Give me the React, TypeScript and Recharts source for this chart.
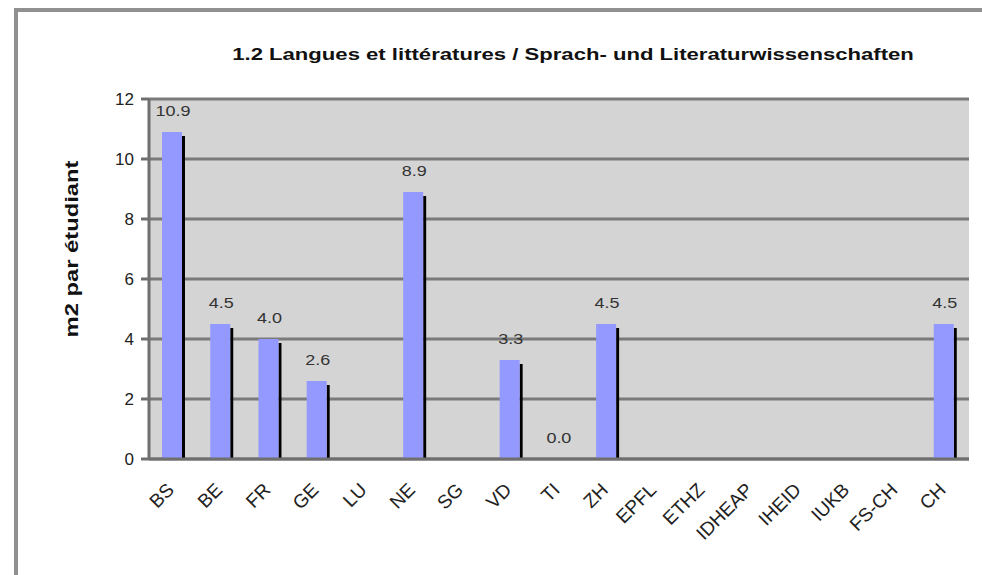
import React from 'react';
import { BarChart, Bar, XAxis, YAxis, CartesianGrid, LabelList } from 'recharts';

const categories = ['BS', 'BE', 'FR', 'GE', 'LU', 'NE', 'SG', 'VD', 'TI', 'ZH', 'EPFL', 'ETHZ', 'IDHEAP', 'IHEID', 'IUKB', 'FS-CH', 'CH'];
const values: (number | null)[] = [10.9, 4.5, 4.0, 2.6, null, 8.9, null, 3.3, 0.0, 4.5, null, null, null, null, null, null, 4.5];
const yTicks = [0, 2, 4, 6, 8, 10, 12];

const data = categories.map((name, i) => ({ name, value: values[i] }));

const font = '"Liberation Sans", Arial, Helvetica, sans-serif';

const ShadowBar = (props: any) => {
  const { x, y, width, height } = props;
  if (!height || height <= 0) return null;
  const bw = width - 3;
  return (
    <g>
      <rect x={x + bw} y={y + 4} width={3} height={height - 4} fill="#000" />
      <rect x={x} y={y} width={bw} height={height} fill="#9499ff" />
    </g>
  );
};

const XTick = (props: any) => {
  const { x, y, payload } = props;
  const ax = x + 2;
  const ay = y + 24;
  return (
    <text
      x={ax}
      y={ay}
      transform={`rotate(-45, ${ax}, ${ay})`}
      textAnchor="end"
      fontSize={19}
      fill="#222"
      fontFamily={font}
    >
      {payload.value}
    </text>
  );
};

const ValueLabel = (props: any) => {
  const { x, y, width, value } = props;
  if (value == null) return null;
  const cx = x + (width - 3) / 2 + 1;
  const cy = y - 16;
  return (
    <text
      x={cx}
      y={cy}
      textAnchor="middle"
      fontSize={15}
      fill="#333"
      fontFamily={font}
      transform={`translate(${cx}, 0) scale(1.2, 1) translate(${-cx}, 0)`}
    >
      {Number(value).toFixed(1)}
    </text>
  );
};

export default function App() {
  return (
    <div style={{ position: 'absolute', left: 0, top: 0, width: 982, height: 575, background: '#fff', overflow: 'hidden' }}>
      <div style={{ position: 'absolute', left: 14, top: 8, width: 968, height: 4, background: '#909090' }} />
      <div style={{ position: 'absolute', left: 14, top: 8, width: 4, height: 567, background: '#909090' }} />
      <div
        style={{
          position: 'absolute',
          left: 573,
          top: 55,
          transform: 'translate(-50%, -50%) scaleX(1.3)',
          whiteSpace: 'nowrap',
          fontFamily: font,
          fontWeight: 'bold',
          fontSize: 17,
          color: '#111',
        }}
      >
        1.2 Langues et littératures / Sprach- und Literaturwissenschaften
      </div>
      <div
        style={{
          position: 'absolute',
          left: 72,
          top: 249,
          transform: 'translate(-50%, -50%) rotate(-90deg) scaleX(1.25)',
          whiteSpace: 'nowrap',
          fontFamily: font,
          fontWeight: 'bold',
          fontSize: 19,
          color: '#111',
        }}
      >
        m2 par étudiant
      </div>
      <div style={{ position: 'absolute', left: 0, top: 0 }}>
        <BarChart width={982} height={575} data={data} margin={{ top: 99, right: 13, bottom: 0, left: 89 }} barCategoryGap={0}>
          <CartesianGrid vertical={false} fill="#d4d4d4" stroke="#7a7a7a" strokeWidth={3} />
          <XAxis
            dataKey="name"
            interval={0}
            height={116}
            tick={<XTick />}
            tickLine={false}
            axisLine={{ stroke: '#6f6f6f', strokeWidth: 3 }}
          />
          <YAxis
            width={60}
            domain={[0, 12]}
            ticks={yTicks}
            tick={{ fontSize: 17, fill: '#222', fontFamily: font }}
            tickLine={{ stroke: '#6f6f6f', strokeWidth: 3 }}
            tickSize={8}
            tickMargin={7}
            axisLine={{ stroke: '#6f6f6f', strokeWidth: 3 }}
          />
          <Bar dataKey="value" barSize={23} shape={<ShadowBar />} isAnimationActive={false}>
            <LabelList dataKey="value" content={<ValueLabel />} />
          </Bar>
        </BarChart>
      </div>
    </div>
  );
}
